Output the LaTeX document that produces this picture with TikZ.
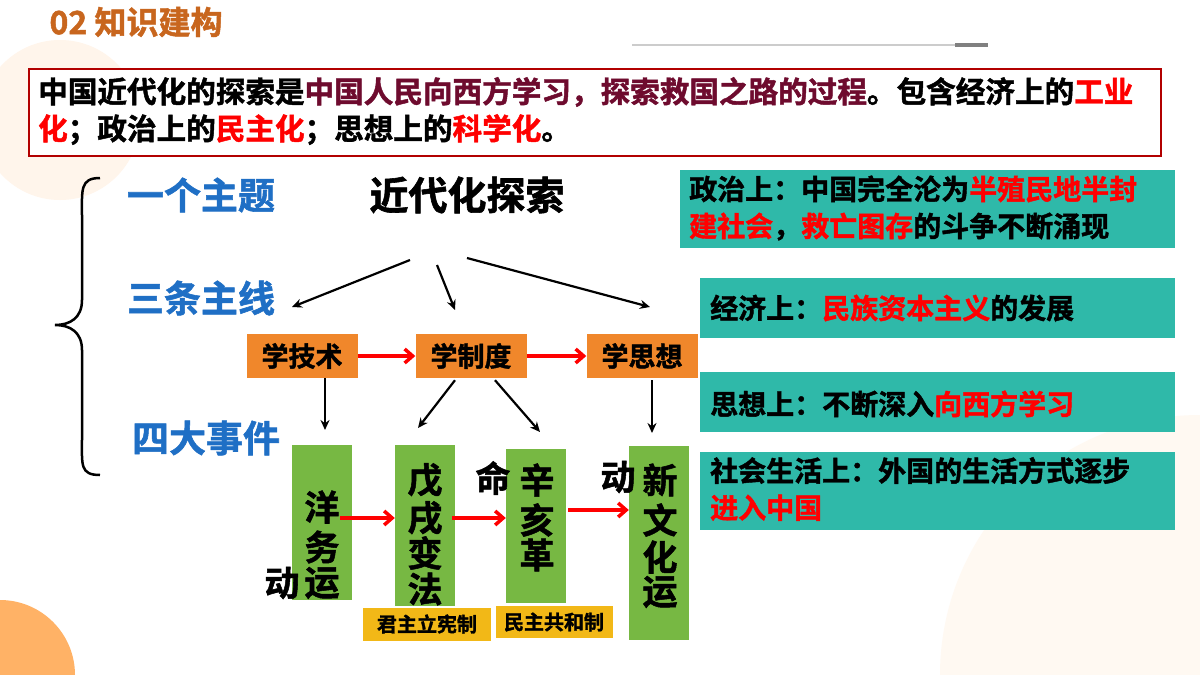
\documentclass[tikz,border=0pt]{standalone}
\usepackage{fontspec}
\setmainfont{Noto Sans CJK SC}
\newfontfamily\cjk{Noto Sans CJK SC Bold}[FakeBold=1.5]
\usetikzlibrary{arrows.meta}
\definecolor{titor}{HTML}{C8661E}
\definecolor{blu}{HTML}{1F6FC5}
\definecolor{org}{HTML}{F0872B}
\definecolor{grn}{HTML}{77B843}
\definecolor{yel}{HTML}{F2B817}
\definecolor{teal}{HTML}{2FB9A9}
\definecolor{dred}{HTML}{6E0B2E}
\tikzset{
 ob/.style={fill=org,minimum width=111pt,minimum height=44pt,inner sep=0,font=\cjk\fontsize{27}{29}\selectfont},
 gb/.style={fill=grn,inner sep=0},
 yb/.style={fill=yel,inner sep=0,font=\cjk\fontsize{20}{22}\selectfont},
 tb/.style={fill=teal,inner sep=0},
 big/.style={font=\cjk\fontsize{37}{39}\selectfont},
 ch/.style={font=\cjk\fontsize{35}{37}\selectfont,inner sep=0},
 tt/.style={font=\cjk\fontsize{28}{37}\selectfont,align=left,anchor=west,inner sep=0},
 ra/.style={red,line width=3.5pt,-{Straight Barb[length=8pt,width=14pt]}},
 ba/.style={black,line width=2.2pt,-{Stealth[length=10pt,width=9pt]}}
}
\begin{document}
\begin{tikzpicture}[x=1pt,y=-1pt]
\useasboundingbox (0,0) rectangle (1200,675);
\fill[white] (0,0) rectangle (1200,675);
\fill[orange!5] (1200,675) circle (260);
\fill[orange!8] (60,120) circle (80);
\fill[orange!60] (0,675) circle (75);
\node[anchor=west,text=titor,font=\cjk\fontsize{32}{34}\selectfont] (title) at (46,22) {02 知识建构};
\draw[gray!40,line width=1.5pt] (632,45) coordinate (g1) -- (955,45) coordinate (g2);
\draw[gray,line width=4pt] (g2) -- (988,45);
\node[draw=red!70!black,line width=2pt,fill=white,minimum width=1132pt,minimum height=87pt,anchor=north west] (top) at (28,68) {};
\node[tt,font=\cjk\fontsize{29.6}{37}\selectfont] (toptext) at (38,111) {中国近代化的探索是\textcolor{dred}{中国人民向西方学习，探索救国之路的过程}。包含经济上的\textcolor{red}{工业}\\\textcolor{red}{化}；政治上的\textcolor{red}{民主化}；思想上的\textcolor{red}{科学化}。};
\draw[line width=2.5pt] (100,178) .. controls (80,178) and (82,190) .. (82,215) -- (82,300) .. controls (82,318) and (70,325) .. (55,325) .. controls (70,325) and (82,332) .. (82,350) -- (82,440) .. controls (82,465) and (80,475) .. (100,475);
\node[big,text=blu] (t1) at (201,195) {一个主题};
\node[big,text=blu] (t2) at (201,298) {三条主线};
\node[big,text=blu] (t3) at (206,438) {四大事件};
\node[font=\cjk\fontsize{39}{41}\selectfont] (main) at (467,195) {近代化探索};
\coordinate (m1) at (410,260); \coordinate (m2) at (437,265); \coordinate (m3) at (467,258);
\node[ob] (a) at (302,356) {学技术};
\node[ob] (b) at (471,356) {学制度};
\node[ob] (c) at (642,356) {学思想};
\draw[ba] (m1) -- (292,307);
\draw[ba] (m2) -- (455,310);
\draw[ba] (m3) -- (650,307);
\draw[ra] (a.east) -- (b.west);
\draw[ra] (b.east) -- (c.west);
\node[gb,minimum width=60pt,minimum height=155pt] (g1b) at (322,522) {};
\node[gb,minimum width=60pt,minimum height=161pt] (g2b) at (425,525) {};
\node[gb,minimum width=60pt,minimum height=154pt] (g3b) at (536,526) {};
\node[gb,minimum width=60pt,minimum height=194pt] (g4b) at (659,543) {};
\draw[ba] (a.south -| 325,0) -- (325,430);
\draw[ba] (b.south -| 455,0) ++(0,2) -- (418,428);
\draw[ba] (b.south -| 495,0) ++(0,2) -- (540,432);
\draw[ba] (c.south -| 652,0) ++(0,2) -- (652,433);
\node[ch] at (322,507) {洋}; \node[ch] at (322,547) {务}; \node[ch] at (322,583) {运}; \node[ch] at (282,583) {动};
\node[ch] at (425,480) {戊}; \node[ch] at (425,518) {戌}; \node[ch] at (425,553) {变}; \node[ch] at (425,589) {法};
\node[ch] at (537,480) {辛}; \node[ch] at (537,520) {亥}; \node[ch] at (537,555) {革}; \node[ch] at (493,478) {命};
\node[ch] at (660,480) {新}; \node[ch] at (660,520) {文}; \node[ch] at (660,557) {化}; \node[ch] at (660,592) {运}; \node[ch] at (618,477) {动};
\coordinate (r1) at (340,518); \coordinate (r2) at (452,518); \coordinate (r3) at (568,510);
\draw[ra] (r1) -- (g2b.west |- r1);
\draw[ra] (r2) -- (g3b.west |- r2);
\draw[ra] (r3) -- (g4b.west |- r3);
\node[yb,minimum width=128pt,minimum height=33pt] (y1) at (427,624) {君主立宪制};
\node[yb,minimum width=117pt,minimum height=32pt] (y2) at (554,622) {民主共和制};
\node[tb,minimum width=495pt,minimum height=78pt,anchor=north west] (p1) at (680,170) {};
\node[tt] at (689,208) {政治上：中国完全沦为\textcolor{red}{半殖民地半封}\\\textcolor{red}{建社会}，\textcolor{red}{救亡图存}的斗争不断涌现};
\node[tb,minimum width=475pt,minimum height=60pt,anchor=north west] (p2) at (700,278) {};
\node[tt] at (710,308) {经济上：\textcolor{red}{民族资本主义}的发展};
\node[tb,minimum width=475pt,minimum height=60pt,anchor=north west] (p3) at (700,372) {};
\node[tt] at (710,404) {思想上：不断深入\textcolor{red}{向西方学习}};
\node[tb,minimum width=475pt,minimum height=78pt,anchor=north west] (p4) at (700,452) {};
\node[tt] at (710,489) {社会生活上：外国的生活方式逐步\\\textcolor{red}{进入中国}};
\end{tikzpicture}
\end{document}
